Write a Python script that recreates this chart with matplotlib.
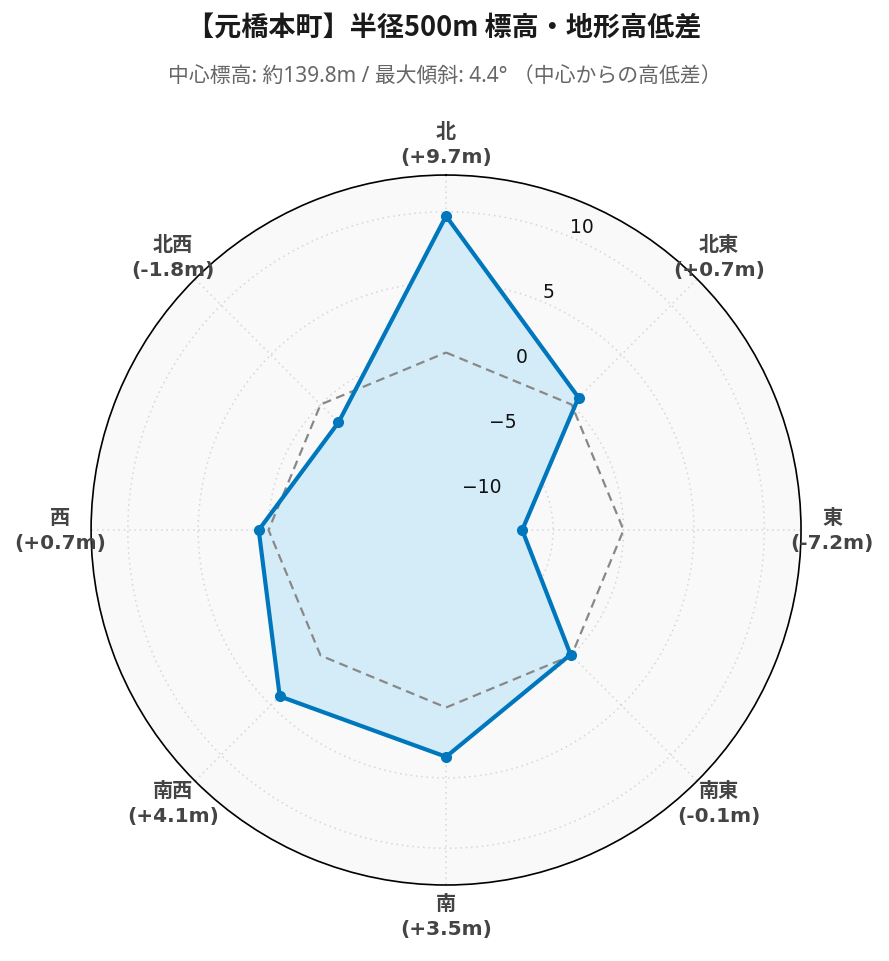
import numpy as np
import matplotlib
matplotlib.use("Agg")
import matplotlib.pyplot as plt
from matplotlib import transforms

directions = ['北', '北東', '東', '南東', '南', '南西', '西', '北西']
diffs = [9.7, 0.7, -7.2, -0.1, 3.5, 4.1, 0.7, -1.8]
rticks = [-10, -5, 0, 5, 10]
title = '【元橋本町】半径500m 標高・地形高低差'
subtitle = '中心標高: 約139.8m / 最大傾斜: 4.4° （中心からの高低差）'

CJK = ['Noto Sans CJK JP', 'DejaVu Sans']
LAT = ['Noto Sans', 'Noto Sans CJK JP']
MIX = ['DejaVu Sans', 'Noto Sans CJK JP']
plt.rcParams['font.family'] = CJK

fig = plt.figure(figsize=(8.89, 9.62), dpi=100)
ax = fig.add_axes([0.1024, 0.079, 0.7987, 0.738], projection='polar')
ax.set_theta_zero_location('N')
ax.set_theta_direction(-1)
ax.set_facecolor('#f9f9f9')

lim = 1.3 * max(abs(v) for v in diffs)
ax.set_rlim(-lim, lim)

theta = np.deg2rad(np.arange(len(directions)) * 360.0 / len(directions))
th_c = np.concatenate([theta, theta[:1]])
r_c = np.concatenate([diffs, diffs[:1]])
zero_c = np.zeros_like(th_c)

ax.fill(th_c, r_c, color='#d3ecf8', zorder=2)
ax.plot(th_c, zero_c, color='#888888', lw=1.6, ls=(0, (4, 2.5)), zorder=3)
ax.plot(th_c, r_c, color='#0077bd', lw=3, zorder=4)
ax.plot(theta, diffs, 'o', color='#0077bd', ms=7, zorder=5)

ax.set_rticks(rticks)
ax.set_yticklabels([])
ax.set_thetagrids(np.rad2deg(theta), [''] * len(theta))
ax.grid(True, color='#d6d6d6', lw=1.1, ls=(0, (1, 2.5)))
ax.spines['polar'].set_color('black')
ax.spines['polar'].set_linewidth(1.2)
ax.tick_params(axis='both', length=0)

# radial tick labels along 22.5 deg
off = transforms.offset_copy(ax.transData, fig=fig, x=1.5, y=0, units='points')
for t in rticks:
    ax.text(np.deg2rad(22.5), t, f"{t}".replace('-', '\u2212'), transform=off,
            ha='left', va='bottom', fontsize=13.5, color='#111111',
            family=MIX, zorder=6)

# angular labels
R = 0.5437
for th, d, v in zip(theta, directions, diffs):
    x = 0.5 + R * np.sin(th)
    y = 0.5 + R * np.cos(th)
    ax.text(x, y, f"{d}\n({v:+.1f}m)", transform=ax.transAxes,
            ha='center', va='center', multialignment='center',
            fontsize=14.5, fontweight='bold', color='#444444',
            family=MIX, linespacing=1.42, zorder=7)

fig.text(0.5, 1 - 28 / 962, title, ha='center', va='center',
         fontsize=19.5, fontweight='bold', color='#1a1a1a', family=CJK)
fig.text(0.5, 1 - 76 / 962, subtitle, ha='center', va='center',
         fontsize=15, color='#666666', family=LAT)

fig.savefig('out.png', dpi=100)
